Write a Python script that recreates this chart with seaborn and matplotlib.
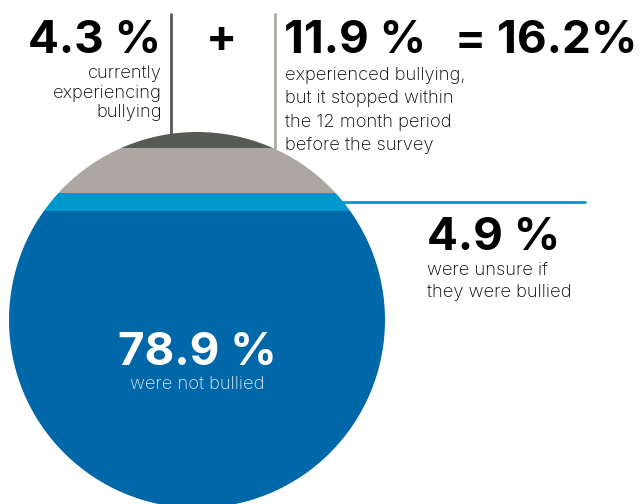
import matplotlib
matplotlib.use("Agg")
import matplotlib.pyplot as plt
import matplotlib.patches as mpatches
import seaborn as sns

# share of students, stacked from the bottom of the circle up
groups = ["were not bullied", "were unsure if they were bullied",
          "experienced bullying, but it stopped", "currently experiencing bullying"]
shares = [78.9, 4.9, 11.9, 4.3]
colors = ["#0067a9", "#0097ce", "#aca8a1", "#575a54"]

big_labels = ["78.9 %", "4.9 %", "11.9 %", "4.3 %"]
total_label = "= 16.2%"
current_lines = ["currently", "experiencing", "bullying"]
stopped_lines = ["experienced bullying,", "but it stopped within",
                 "the 12 month period", "before the survey"]
unsure_lines = ["were unsure if", "they were bullied"]

W, H = 642, 504
sns.set_theme(style="white")
plt.rcParams["font.family"] = ["Inter", "DejaVu Sans"]

fig = plt.figure(figsize=(W / 100, H / 100), dpi=100)

# circle bounding box in pixels: centre (197, 320), radius 188
cx, cy, r = 197, 320, 188
ax = fig.add_axes([(cx - r) / W, (H - cy - r) / H, 2 * r / W, 2 * r / H])
ax.set_xlim(-50, 50)
ax.set_ylim(0, 100)
ax.axis("off")

circle = mpatches.Circle((0, 50), 50, transform=ax.transData, facecolor="none", edgecolor="none")
ax.add_patch(circle)

bottom = 0
for share, color in zip(shares, colors):
    bars = ax.bar(0, share, bottom=bottom, width=100, color=color, linewidth=0)
    for b in bars:
        b.set_clip_path(circle)
    bottom += share


def px_to_data(x, y):
    return (x - cx) / (2 * r) * 100, (cy + r - y) / (2 * r) * 100


# divider lines at the top
x1, y1 = px_to_data(171, 14)
ax.plot([x1, x1], [y1, 100 - 0.4], color=colors[3], lw=2, clip_on=False)
top_grey = shares[0] + shares[1] + shares[2]
x2, _ = px_to_data(274.5, 14)
ax.plot([x2, x2], [y1, top_grey], color=colors[2], lw=2, clip_on=False)

# leader line for the unsure band
mid_unsure = shares[0] + shares[1] / 2
x3, _ = px_to_data(585, 0)
ax.plot([20, x3], [mid_unsure, mid_unsure], color=colors[1], lw=2, clip_on=False)


def ftext(x, y, s, **kw):
    fig.text(x / W, 1 - y / H, s, **kw)


def block(x, y0, step, lines, **kw):
    for i, line in enumerate(lines):
        ftext(x, y0 + i * step, line, **kw)


big = dict(fontsize=33, fontweight="bold", color="black", va="baseline")
body = dict(fontsize=13.2, fontweight="light", color="#000000", va="baseline")

ftext(161, 53, big_labels[3], ha="right", **big)
block(162, 78, 19.5, current_lines, ha="right", **body)

ftext(222, 52, "+", ha="center", **big)

ftext(284, 53, big_labels[2], ha="left", **big)
block(285, 80, 23.3, stopped_lines, ha="left", **body)

ftext(637, 53, total_label, ha="right", **big)

ftext(427, 250, big_labels[1], ha="left", **big)
block(427, 275, 22, unsure_lines, ha="left", **body)

ftext(197, 365, big_labels[0], ha="center", **dict(big, color="white"))
ftext(197, 389, groups[0], ha="center", **dict(body, color="#e3ebf4"))

fig.savefig("out.png", dpi=100)
